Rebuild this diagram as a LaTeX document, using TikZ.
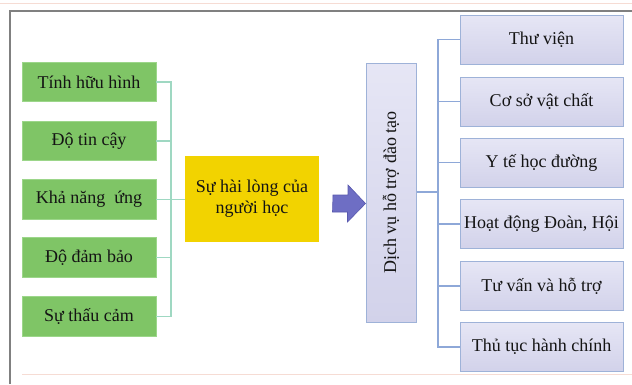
\documentclass[tikz,border=0pt]{standalone}
\usepackage{fontspec}
\setmainfont{Liberation Serif}
\begin{document}
\begin{tikzpicture}[x=1pt,y=-1pt,
  every node/.style={font=\rmfamily\fontsize{18}{20}\selectfont, text=black!92},
  greenbox/.style={rectangle, fill=gbox, draw=gboxline, line width=0.8pt, minimum width=134pt, minimum height=39.5pt, inner sep=0pt},
  bluebox/.style={rectangle, top color=bbtop, bottom color=bbbot, draw=bbline, line width=1pt, minimum width=163pt, minimum height=49pt, inner sep=0pt},
  lconn/.style={draw=lcol, line width=1.3pt},
  rconn/.style={draw=rcol, line width=1.3pt}]
\definecolor{gbox}{HTML}{7FC566}
\definecolor{gboxline}{HTML}{9CD68A}
\definecolor{ybox}{HTML}{F2D300}
\definecolor{bbtop}{HTML}{E6E6F5}
\definecolor{bbbot}{HTML}{D2D2EA}
\definecolor{bbline}{HTML}{9EB2D8}
\definecolor{lcol}{HTML}{9FD8C2}
\definecolor{rcol}{HTML}{8EA8D8}
\definecolor{arr}{HTML}{6E6EC4}
\definecolor{arrline}{HTML}{5858AE}
\definecolor{frame}{HTML}{808080}
\definecolor{pinkline}{HTML}{F6DCD4}
\useasboundingbox (0,0) rectangle (632,384);
\fill[white] (0,0) rectangle (632,384);
% frame
\draw[pinkline, line width=1pt] (0,3) -- (632,3);
\draw[pinkline, line width=1pt] (22,374) -- (632,374);
\draw[frame, line width=1.6pt] (10,384) -- (10,11) -- (632,11);

% left boxes
\node[greenbox] (g1) at (89,82) {Tính hữu hình};
\node[greenbox] (g2) at (89,141) {Độ tin cậy};
\node[greenbox] (g3) at (89,199.5) {Khả năng \ ứng};
\node[greenbox] (g4) at (89,257.5) {Độ đảm bảo};
\node[greenbox] (g5) at (89,316.5) {Sự thấu cảm};

\node[rectangle, fill=ybox, minimum width=134pt, minimum height=86pt, inner sep=0pt, align=center,
  font=\rmfamily\fontsize{18}{21}\selectfont] (y) at (252,199) {Sự hài lòng của\\người học};

\coordinate (lb) at (171,199.5);
\draw[lconn] (g1.east) -| (lb);
\draw[lconn] (g5.east) -| (lb);
\draw[lconn] (g2.east) -- (g2.east -| lb);
\draw[lconn] (g3.east) -- (y.west |- g3.east);
\draw[lconn] (g4.east) -- (g4.east -| lb);

% vertical box
\node[rectangle, top color=bbtop, bottom color=bbbot, draw=bbline, line width=1pt,
  minimum width=50pt, minimum height=259pt, inner sep=0pt] (v) at (391,192.5) {};
\node[rotate=90] (vt) at (v.center) {Dịch vụ hỗ trợ đào tạo};

% block arrow
\coordinate (ar) at (333,203.5);
\draw[fill=arr, draw=arrline, line width=0.6pt, line join=miter]
  (ar) ++(0,-8.5) -- ++(15,0) -- ++(0,-10) -- (v.west |- ar) -- ++(-18,18.5) -- ++(0,-10) -- ++(-15,0) -- cycle;

% right boxes
\node[bluebox] (b1) at (541.5,39.5) {Thư viện};
\node[bluebox] (b2) at (541.5,101.5) {Cơ sở vật chất};
\node[bluebox] (b3) at (541.5,162.5) {Y tế học đường};
\node[bluebox] (b4) at (541.5,224) {Hoạt động Đoàn, Hội};
\node[bluebox] (b5) at (541.5,286) {Tư vấn và hỗ trợ};
\node[bluebox] (b6) at (541.5,347) {Thủ tục hành chính};

\coordinate (rb) at (438,192);
\draw[rconn] (v.east |- rb) -- (rb);
\draw[rconn] (b1.west) -| (rb);
\draw[rconn] (b6.west) -| (rb);
\draw[rconn] (b2.west) -- (b2.west -| rb);
\draw[rconn] (b3.west) -- (b3.west -| rb);
\draw[rconn] (b4.west) -- (b4.west -| rb);
\draw[rconn] (b5.west) -- (b5.west -| rb);
\end{tikzpicture}
\end{document}
